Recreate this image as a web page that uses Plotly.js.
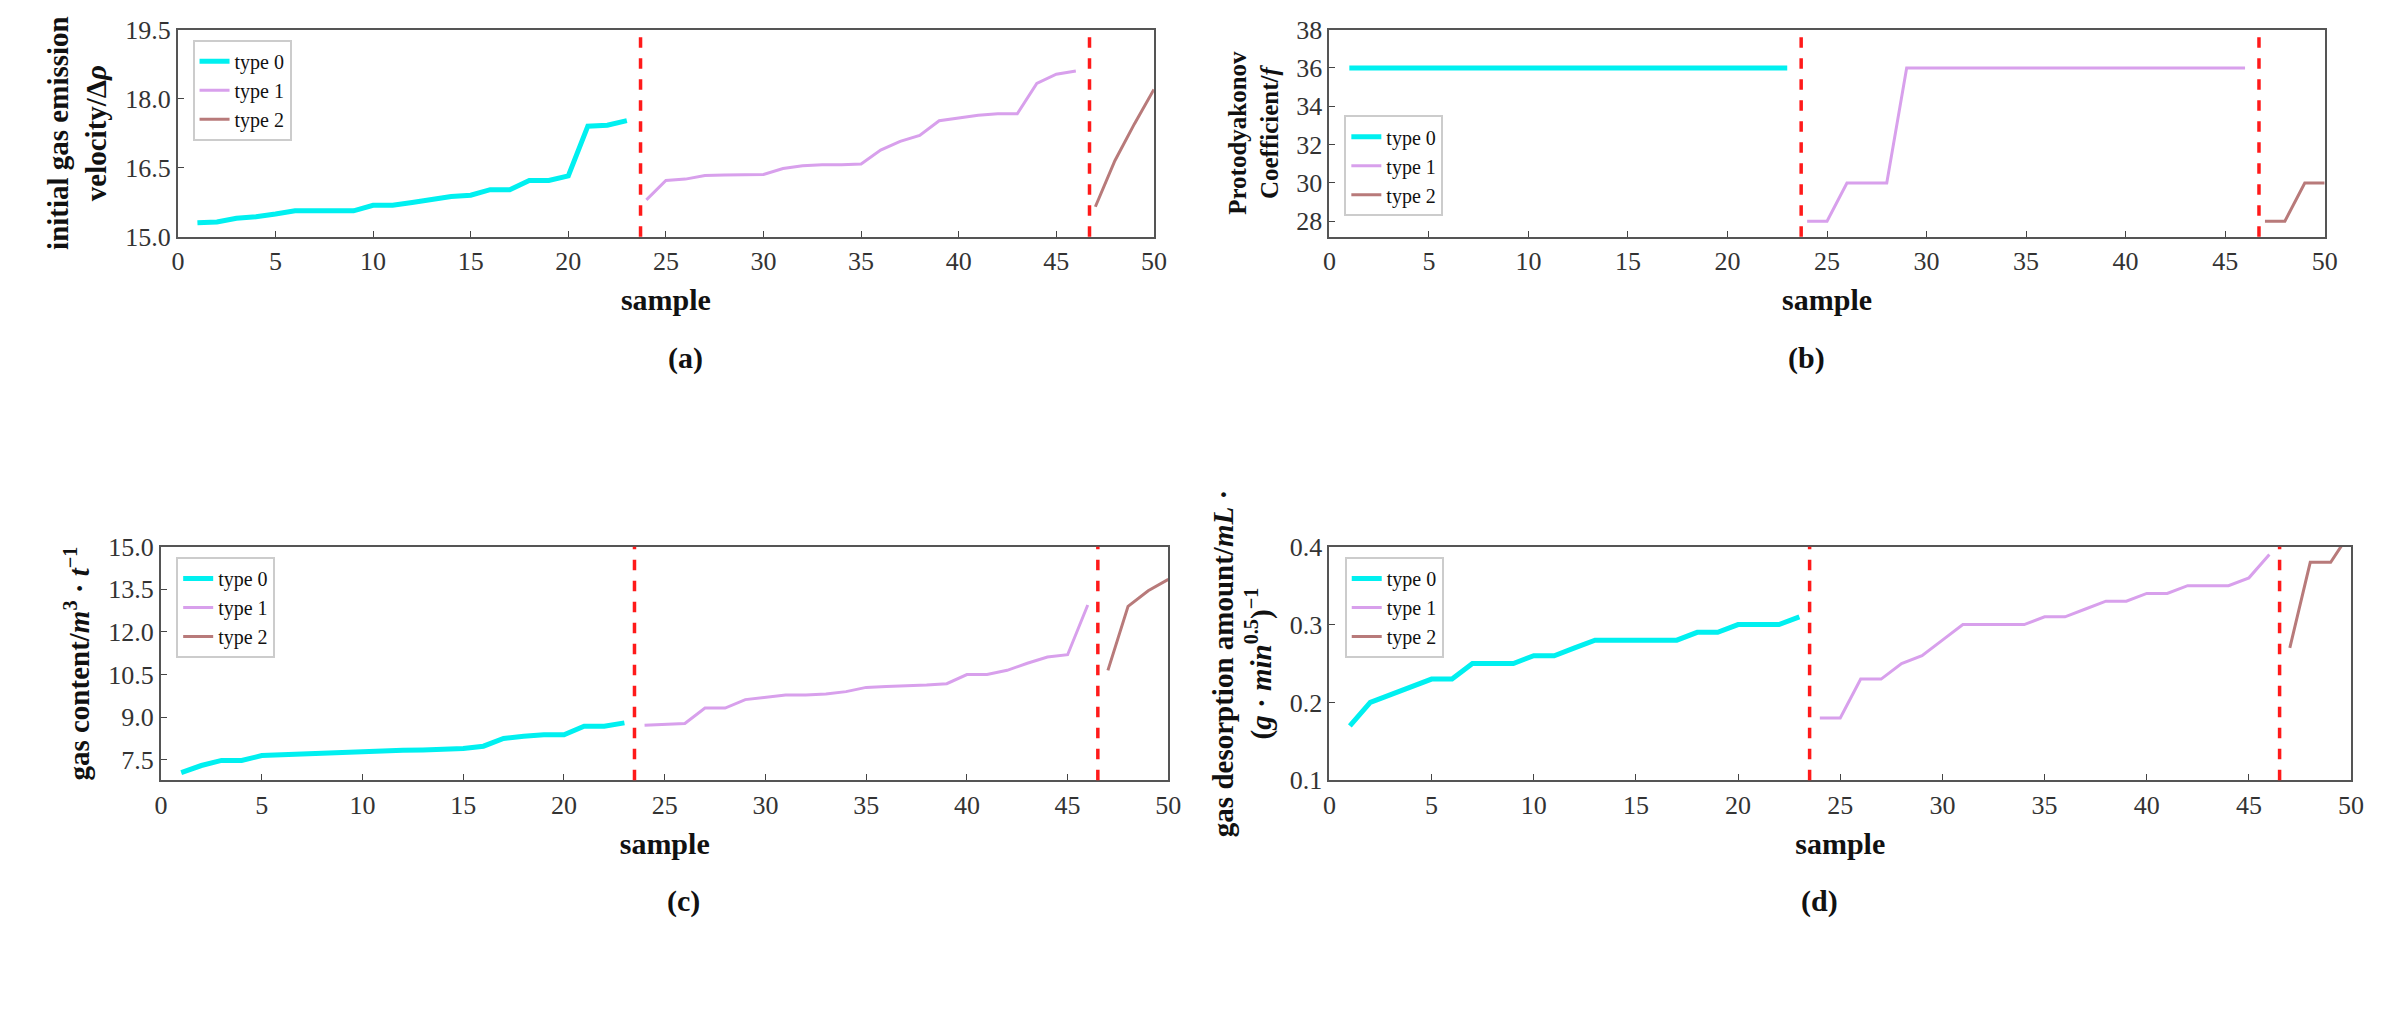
<!DOCTYPE html>
<html>
<head>
<meta charset="utf-8">
<script src="https://cdn.plot.ly/plotly-3.0.1.min.js"></script>
<style>html,body{margin:0;padding:0;background:#fff}#chart{width:2404px;height:1020px}</style>
</head>
<body>
<div id="chart"></div>
<script>
// sample indices
const x0 = [1,2,3,4,5,6,7,8,9,10,11,12,13,14,15,16,17,18,19,20,21,22,23];
const x1 = [24,25,26,27,28,29,30,31,32,33,34,35,36,37,38,39,40,41,42,43,44,45,46];
const x2 = [47,48,49,50];

// (a) initial gas emission velocity
const aType0 = [15.3,15.32,15.4,15.43,15.49,15.56,15.56,15.56,15.56,15.68,15.68,15.74,15.8,15.87,15.9,16.02,16.02,16.22,16.22,16.32,17.4,17.42,17.52];
const aType1 = [15.8,16.22,16.25,16.33,16.34,16.35,16.35,16.48,16.54,16.56,16.56,16.58,16.88,17.07,17.2,17.52,17.58,17.64,17.67,17.67,18.33,18.53,18.6];
const aType2 = [15.65,16.65,17.45,18.2];

// (b) Protodyakonov coefficient
const bType0 = [36,36,36,36,36,36,36,36,36,36,36,36,36,36,36,36,36,36,36,36,36,36,36];
const bType1 = [28,28,30,30,30,36,36,36,36,36,36,36,36,36,36,36,36,36,36,36,36,36,36];
const bType2 = [28,28,30,30];

// (c) gas content
const cType0 = [7.05,7.3,7.48,7.48,7.65,7.68,7.68,7.75,7.78,7.8,7.82,7.84,7.85,7.87,7.9,7.98,8.25,8.33,8.38,8.38,8.68,8.68,8.8];
const cType1 = [8.72,8.75,8.78,9.32,9.32,9.62,9.7,9.78,9.78,9.82,9.9,10.05,10.08,10.1,10.13,10.18,10.5,10.5,10.65,10.9,11.12,11.2,12.95];
const cType2 = [10.65,12.9,13.45,13.85];

// (d) gas desorption amount
const dType0 = [0.17,0.2,0.21,0.22,0.23,0.23,0.25,0.25,0.25,0.26,0.26,0.27,0.28,0.28,0.28,0.28,0.28,0.29,0.29,0.3,0.3,0.3,0.31];
const dType1 = [0.18,0.18,0.23,0.23,0.25,0.26,0.28,0.3,0.3,0.3,0.3,0.31,0.31,0.32,0.33,0.33,0.34,0.34,0.35,0.35,0.35,0.36,0.39];
const dType2 = [0.27,0.38,0.38,0.42];

// dashed separators per panel
const splitsTop = [23.7, 46.7];
const splitsBottom = [23.5, 46.5];

const colors = ['#00f0f0', '#d8a0ec', '#b87a7a'];
const widths = [5, 3, 3];
const names = ['type 0', 'type 1', 'type 2'];
const font = 'Liberation Serif, Times New Roman, serif';

const panels = [
    { key: '', legend: 'legend', data: [aType0, aType1, aType2], splits: splitsTop,
      range: [15, 19.5], dtick: 1.5, tickformat: '.1f', dom: [[0.074, 0.480], [0.768, 0.971]],
      ytitle: 'initial gas emission<br>velocity/Δ<i>ρ</i>', label: '(a)' },
    { key: '2', legend: 'legend2', data: [bType0, bType1, bType2], splits: splitsTop,
      range: [27.2, 38], dtick: 2, tick0: 28, tickformat: 'd', dom: [[0.553, 0.967], [0.768, 0.971]],
      ytitle: 'Protodyakonov<br>Coefficient/<i>f</i>', label: '(b)', small: true },
    { key: '3', legend: 'legend3', data: [cType0, cType1, cType2], splits: splitsBottom,
      range: [6.78, 15], dtick: 1.5, tick0: 7.5, tickformat: '.1f', dom: [[0.067, 0.486], [0.235, 0.464]],
      ytitle: 'gas content/<i>m</i><sup>3</sup> · <i>t</i><sup>−1</sup>', label: '(c)' },
    { key: '4', legend: 'legend4', data: [dType0, dType1, dType2], splits: splitsBottom,
      range: [0.1, 0.4], dtick: 0.1, tickformat: '.1f', dom: [[0.553, 0.978], [0.235, 0.464]],
      ytitle: 'gas desorption amount/<i>mL</i> ·<br>(<i>g</i> · <i>min</i><sup>0.5</sup>)<sup>−1</sup>', label: '(d)' }
];

const traces = [];
const layout = {
    width: 2404, height: 1020,
    paper_bgcolor: '#fff', plot_bgcolor: '#fff',
    font: { family: font, color: '#222' },
    margin: { l: 0, r: 0, t: 0, b: 0 },
    shapes: [], annotations: []
};

panels.forEach((p, i) => {
    const xa = 'x' + p.key, ya = 'y' + p.key;
    const xs = [x0, x1, x2];
    p.data.forEach((ys, k) => {
        traces.push({
            x: xs[k], y: ys, type: 'scatter', mode: 'lines', name: names[k],
            xaxis: xa, yaxis: ya, legend: p.legend,
            line: { color: colors[k], width: widths[k] }
        });
    });
    p.splits.forEach(s => {
        layout.shapes.push({
            type: 'line', xref: xa, yref: ya + ' domain', x0: s, x1: s, y0: 0, y1: 1,
            line: { color: '#ff1a1a', width: 3.5, dash: 'dash' }
        });
    });
    const axisCommon = {
        showline: true, mirror: true, linecolor: '#555', linewidth: 2,
        ticks: 'inside', ticklen: 6, tickcolor: '#444', showgrid: false, zeroline: false,
        tickfont: { size: 26, family: font, color: '#333' }
    };
    layout['xaxis' + p.key] = {
        ...axisCommon, domain: p.dom[0], anchor: ya, range: [0, 50], dtick: 5,
        title: { text: '<b>sample</b>', font: { size: 30, family: font, color: '#111' }, standoff: 14 }
    };
    layout['yaxis' + p.key] = {
        ...axisCommon, domain: p.dom[1], anchor: xa, range: p.range, dtick: p.dtick,
        tick0: p.tick0 !== undefined ? p.tick0 : p.range[0], tickformat: p.tickformat,
        title: { text: '<b>' + p.ytitle + '</b>', font: { size: p.small ? 25 : 29, family: font, color: '#111' }, standoff: 10 }
    };
    layout[p.legend] = {
        x: 0.015 * (p.dom[0][1] - p.dom[0][0]) + p.dom[0][0], y: p.small ? p.dom[1][0] + 0.02 : p.dom[1][1] - 0.01,
        xanchor: 'left', yanchor: p.small ? 'bottom' : 'top',
        bgcolor: 'rgba(255,255,255,0.9)', bordercolor: '#ccc', borderwidth: 2,
        font: { size: 20, family: font, color: '#111' }, tracegroupgap: 0
    };
    layout.annotations.push({
        text: '<b>' + p.label + '</b>', xref: 'paper', yref: 'paper',
        x: (p.dom[0][0] + p.dom[0][1]) / 2, y: p.dom[1][0] - 0.1, yanchor: 'top',
        showarrow: false, font: { size: 30, family: font, color: '#111' }
    });
});

Plotly.newPlot('chart', traces, layout, { displayModeBar: false, staticPlot: true });
</script>
</body>
</html>
